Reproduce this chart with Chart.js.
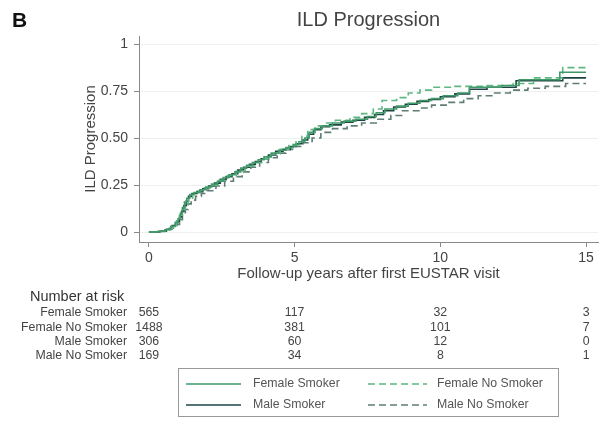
<!DOCTYPE html>
<html>
<head>
<meta charset="utf-8">
<script src="https://cdn.jsdelivr.net/npm/chart.js@4"></script>
<style>
html,body{margin:0;padding:0;background:#fff;}
canvas{display:block;}
</style>
</head>
<body>
<canvas id="c" width="602" height="430"></canvas>
<script>
// ---- data ----
const seriesNames = ["Female Smoker", "Female No Smoker", "Male Smoker", "Male No Smoker"];

const femaleSmokerT = [0,0.3,0.55,0.75,0.9,1.0,1.08,1.15,1.22,1.3,1.4,1.55,1.75,1.95,2.15,2.35,2.55,2.75,2.95,3.15,3.35,3.55,3.75,3.95,4.2,4.45,4.7,4.95,5.15,5.35,5.5,5.7,5.95,6.3,6.7,7.1,7.5,7.8,8.1,8.5,8.9,9.3,9.7,10.1,10.6,11.0,12.1,12.7,14.1,15];
const femaleSmokerV = [0,0.003,0.012,0.03,0.05,0.07,0.10,0.13,0.16,0.18,0.20,0.21,0.225,0.24,0.255,0.27,0.29,0.305,0.32,0.34,0.355,0.37,0.385,0.40,0.42,0.435,0.45,0.465,0.48,0.50,0.53,0.55,0.565,0.58,0.59,0.60,0.615,0.635,0.655,0.67,0.685,0.70,0.71,0.725,0.74,0.77,0.78,0.81,0.85,0.85];

const femaleNoSmokerT = [0,0.3,0.6,0.8,0.95,1.05,1.15,1.25,1.35,1.5,1.7,1.9,2.1,2.4,2.7,3.0,3.3,3.6,3.9,4.2,4.5,4.8,5.05,5.25,5.45,5.7,6.0,6.4,6.9,7.3,7.7,8.0,8.5,8.9,9.3,9.7,10.5,11.5,12.5,13.2,14.2,15];
const femaleNoSmokerV = [0,0.004,0.015,0.035,0.06,0.09,0.12,0.15,0.18,0.20,0.22,0.235,0.25,0.275,0.30,0.325,0.35,0.37,0.39,0.415,0.44,0.46,0.48,0.51,0.545,0.565,0.58,0.595,0.61,0.63,0.655,0.70,0.715,0.74,0.755,0.77,0.775,0.78,0.79,0.82,0.875,0.875];

const maleSmokerT = [0,0.35,0.6,0.8,0.95,1.05,1.12,1.2,1.28,1.36,1.48,1.65,1.85,2.05,2.25,2.45,2.65,2.85,3.05,3.25,3.45,3.65,3.85,4.1,4.35,4.6,4.85,5.05,5.25,5.45,5.65,5.9,6.2,6.6,7.0,7.4,7.75,8.05,8.4,8.8,9.2,9.6,10.0,10.5,11.0,11.6,12.6,14.2,15];
const maleSmokerV = [0,0.004,0.015,0.035,0.055,0.08,0.11,0.14,0.165,0.19,0.205,0.215,0.23,0.245,0.26,0.28,0.295,0.31,0.33,0.345,0.36,0.375,0.39,0.41,0.43,0.44,0.455,0.47,0.49,0.52,0.545,0.56,0.57,0.585,0.595,0.61,0.625,0.645,0.665,0.68,0.695,0.705,0.72,0.735,0.76,0.77,0.805,0.82,0.82];

const maleNoSmokerT = [0,0.4,0.7,0.9,1.05,1.15,1.25,1.35,1.45,1.6,1.8,2.0,2.3,2.6,2.9,3.2,3.5,3.8,4.1,4.4,4.7,5.0,5.3,5.6,5.9,6.3,6.8,7.3,7.8,8.3,8.7,9.3,9.7,10.2,10.8,11.3,11.8,12.4,13.0,13.6,14.3,15];
const maleNoSmokerV = [0,0.005,0.02,0.04,0.065,0.09,0.12,0.15,0.17,0.19,0.205,0.22,0.245,0.27,0.295,0.32,0.345,0.37,0.395,0.42,0.44,0.455,0.475,0.50,0.53,0.55,0.565,0.58,0.60,0.62,0.645,0.66,0.675,0.69,0.71,0.725,0.74,0.755,0.765,0.775,0.79,0.79];

const xTicks = [0, 5, 10, 15];
const yTicks = [0, 0.25, 0.5, 0.75, 1];
const yTickLabels = ["0", "0.25", "0.50", "0.75", "1"];

const riskTimes = [0, 5, 10, 15];
const riskFemaleSmoker = [565, 117, 32, 3];
const riskFemaleNoSmoker = [1488, 381, 101, 7];
const riskMaleSmoker = [306, 60, 12, 0];
const riskMaleNoSmoker = [169, 34, 8, 1];

// ---- styles ----
const FONT = "'Liberation Sans', Arial, sans-serif";
const colors = {
  "Female Smoker": "#3f9a68",
  "Female No Smoker": "#5cb783",
  "Male Smoker": "#1f4444",
  "Male No Smoker": "#5f7d74"
};

function pts(t, v) { return t.map((x, i) => ({x: x, y: v[i]})); }

const datasets = [
  {label: "Female Smoker", data: pts(femaleSmokerT, femaleSmokerV), borderColor: colors["Female Smoker"], borderDash: []},
  {label: "Female No Smoker", data: pts(femaleNoSmokerT, femaleNoSmokerV), borderColor: colors["Female No Smoker"], borderDash: [7, 4]},
  {label: "Male Smoker", data: pts(maleSmokerT, maleSmokerV), borderColor: colors["Male Smoker"], borderDash: []},
  {label: "Male No Smoker", data: pts(maleNoSmokerT, maleNoSmokerV), borderColor: colors["Male No Smoker"], borderDash: [7, 4]}
].map(d => Object.assign(d, {stepped: true, pointRadius: 0, borderWidth: 1.6, fill: false, tension: 0}));

const riskRows = [
  ["Female Smoker", riskFemaleSmoker],
  ["Female No Smoker", riskFemaleNoSmoker],
  ["Male Smoker", riskMaleSmoker],
  ["Male No Smoker", riskMaleNoSmoker]
];

const extras = {
  id: "extras",
  afterDraw(chart) {
    const ctx = chart.ctx;
    const xs = chart.scales.x;
    const ca = chart.chartArea;
    ctx.save();
    // panel letter
    ctx.fillStyle = "#111";
    ctx.font = "bold 21px " + FONT;
    ctx.textAlign = "left"; ctx.textBaseline = "alphabetic";
    ctx.fillText("B", 12, 27);
    // title
    ctx.fillStyle = "#444";
    ctx.font = "20px " + FONT;
    ctx.textAlign = "center"; ctx.textBaseline = "middle";
    ctx.fillText("ILD Progression", (ca.left + ca.right) / 2, 20);
    // risk table
    ctx.fillStyle = "#333";
    ctx.font = "14.5px " + FONT;
    ctx.textAlign = "left";
    ctx.fillText("Number at risk", 30, 297);
    ctx.font = "12.3px " + FONT;
    ctx.fillStyle = "#444";
    riskRows.forEach((row, i) => {
      const y = 313 + i * 14.2;
      ctx.textAlign = "right";
      ctx.fillText(row[0], 127, y);
      ctx.textAlign = "center";
      row[1].forEach((n, j) => {
        ctx.fillText(String(n), xs.getPixelForValue(riskTimes[j]), y);
      });
    });
    // legend box
    ctx.strokeStyle = "#999";
    ctx.lineWidth = 1;
    ctx.strokeRect(178.5, 368.5, 380, 48);
    const entries = [
      [0, 186, 241, 253, 384],
      [1, 368, 427, 437, 384],
      [2, 186, 241, 253, 405],
      [3, 368, 427, 437, 405]
    ];
    ctx.font = "12.3px " + FONT;
    ctx.textAlign = "left";
    entries.forEach(e => {
      const ds = chart.data.datasets[e[0]];
      ctx.strokeStyle = ds.borderColor;
      ctx.lineWidth = 1.4;
      ctx.setLineDash(ds.borderDash);
      ctx.beginPath();
      ctx.moveTo(e[1], e[4]); ctx.lineTo(e[2], e[4]);
      ctx.stroke();
      ctx.setLineDash([]);
      ctx.fillStyle = "#555";
      ctx.fillText(ds.label, e[3], e[4]);
    });
    ctx.restore();
  }
};

new Chart(document.getElementById("c"), {
  type: "line",
  data: {datasets: datasets},
  options: {
    responsive: false,
    devicePixelRatio: 1,
    animation: false,
    layout: {padding: {left: 78, right: 4, top: 36, bottom: 143}},
    plugins: {legend: {display: false}, tooltip: {enabled: false}, title: {display: false}},
    scales: {
      x: {
        type: "linear",
        min: -0.34, max: 15.41,
        afterBuildTicks: s => { s.ticks = xTicks.map(v => ({value: v})); },
        afterFit: s => { s.height = 45; },
        ticks: {color: "#444", font: {family: FONT, size: 14}, padding: 3, maxRotation: 0, autoSkip: false},
        grid: {drawOnChartArea: false, drawTicks: true, tickLength: 5, tickColor: "#888"},
        border: {display: true, color: "#888", width: 1},
        title: {display: true, text: "Follow-up years after first EUSTAR visit", color: "#444", font: {family: FONT, size: 15}, padding: {top: 4, bottom: 4}}
      },
      y: {
        type: "linear",
        min: -0.053, max: 1.043,
        afterBuildTicks: s => { s.ticks = yTicks.map(v => ({value: v})); },
        afterFit: s => { s.width = 61; },
        ticks: {color: "#444", font: {family: FONT, size: 14}, padding: 6, autoSkip: false,
          callback: (v) => { const i = yTicks.indexOf(v); return i >= 0 ? yTickLabels[i] : ""; }},
        grid: {drawOnChartArea: true, color: "#efefef", drawTicks: true, tickLength: 5, tickColor: "#888"},
        border: {display: true, color: "#888", width: 1},
        title: {display: true, text: "ILD Progression", color: "#444", font: {family: FONT, size: 15}, padding: {top: 4, bottom: 4}}
      }
    }
  },
  plugins: [extras]
});
</script>
</body>
</html>
